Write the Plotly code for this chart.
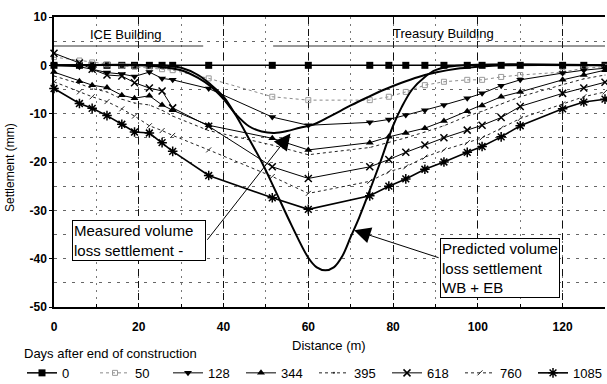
import plotly.graph_objects as go

# ---------------- data ----------------
distance = [0, 6, 9, 12.5, 16, 19, 22.5, 25.5, 28, 36.5, 51.5, 60, 74.5, 79, 83,
            87.5, 92, 97.5, 101, 105.5, 110, 120, 125, 130]

days_labels = ["0", "50", "128", "344", "395", "618", "760", "1085"]

s_0 = [0.0] * 24
s_50 = [1.7, 1.0, 0.6, 0.2, -0.1, -0.3, -0.5, -0.8, -1.0, -2.7, -6.5, -7.2,
        -7.2, -6.5, -5.5, -4.1, -3.4, -3.0, -3.0, -2.4, -2.0, -1.4, -0.6, -0.3]
s_128 = [0.0, -0.3, -0.8, -1.5, -1.8, -2.3, -1.4, -2.7, -3.0, -4.8, -10.7, -12.4,
         -11.8, -11.2, -10.3, -9.3, -8.2, -6.8, -5.8, -4.2, -3.0, -1.6, -1.0, -0.6]
s_344 = [-1.4, -3.3, -4.1, -4.6, -6.2, -6.8, -6.3, -8.2, -9.3, -12.4, -15.1, -17.5,
         -16.0, -14.8, -14.0, -13.0, -11.5, -9.5, -8.3, -6.5, -5.5, -3.0, -2.0, -1.0]
s_395 = [-2.2, -3.8, -4.8, -5.5, -7.0, -7.8, -8.2, -9.3, -10.5, -13.5, -16.5, -18.5,
         -17.0, -16.0, -15.0, -13.8, -12.5, -10.5, -9.5, -8.0, -6.5, -4.0, -2.8, -2.0]
s_618 = [2.5, 0.5, -0.8, -2.0, -2.2, -3.6, -4.7, -5.3, -8.8, -12.6, -21.0, -23.4,
         -21.0, -19.5, -18.0, -16.5, -15.0, -13.4, -12.4, -10.8, -8.5, -5.8, -4.7, -3.5]
s_760 = [-3.4, -5.5, -6.5, -7.5, -9.0, -10.5, -12.5, -13.5, -14.5, -17.5, -23.0, -26.5,
         -24.0, -22.0, -21.0, -19.0, -17.5, -16.0, -15.0, -13.0, -11.0, -8.0, -6.5, -5.5]
s_1085 = [-4.8, -7.9, -8.9, -10.4, -12.2, -13.8, -14.0, -16.0, -17.8, -22.8, -27.4, -29.8,
          -27.0, -25.0, -23.5, -21.5, -20.0, -18.0, -16.8, -14.8, -12.5, -9.0, -7.6, -7.0]

measured_x = [0, 20, 25, 30, 34, 37, 40, 43, 46, 49, 52, 55, 58, 61, 65, 70, 74, 78,
              82, 86, 90, 95, 100, 106, 130]
measured_y = [0, 0, -0.3, -1.0, -2.6, -4.4, -7.0, -10.2, -12.6, -13.7, -14.0, -13.6,
              -12.9, -12.3, -10.6, -8.3, -6.6, -5.0, -3.6, -2.4, -1.5, -0.7, -0.3, 0, 0]

predicted_x = [0, 25, 30, 34, 37, 40, 43, 46, 49, 52, 56, 60, 62, 64, 66, 68, 70, 72,
               74, 77, 80, 82, 84.5, 87.5, 90, 95, 130]
predicted_y = [0, 0, -0.5, -2.0, -4.0, -6.5, -10.5, -15.2, -20.0, -25.5, -33.0, -39.8,
               -41.8, -42.4, -41.8, -39.5, -35.5, -31.5, -27.0, -20.0, -12.5, -8.7,
               -5.0, -2.4, -1.0, -0.1, 0]

ice_x = [0, 35.2]
treasury_x = [51.7, 130]
building_y = 4.0

x_ticks = [0, 20, 40, 60, 80, 100, 120]
y_ticks = [10, 0, -10, -20, -30, -40, -50]
y_ticktext = ["10", "0", "-10", "-20", "-30", "-40", "-50"]

# ---------------- layout geometry ----------------
W, H = 607, 384
ML, MR, MT, MB = 54, 2, 17, 77
PW, PH = W - ML - MR, H - MT - MB


def px_to_paper(px, py):
    return (px - ML) / PW, (H - MB - py) / PH


# ---------------- styles ----------------
FONT = "Liberation Sans, Arial, sans-serif"
series = [
    (s_0, dict(color="black", width=1.5, dash="solid"),
     dict(symbol="square", size=7, color="black")),
    (s_50, dict(color="#8a8a8a", width=1, dash="dot"),
     dict(symbol="square-open", size=5, color="#9a9a9a", line=dict(width=1, color="#9a9a9a"))),
    (s_128, dict(color="black", width=1, dash="solid"),
     dict(symbol="triangle-down", size=7, color="black")),
    (s_344, dict(color="black", width=1, dash="solid"),
     dict(symbol="triangle-up", size=7, color="black")),
    (s_395, dict(color="#222", width=1, dash="dot"),
     dict(symbol="circle", size=1, color="#222")),
    (s_618, dict(color="black", width=1, dash="solid"),
     dict(symbol="x-thin-open", size=7, color="black", line=dict(width=1.5, color="black"))),
    (s_760, dict(color="#222", width=1, dash="3px,3px"),
     dict(symbol="line-ne-open", size=5, color="#222", line=dict(width=1, color="#222"))),
    (s_1085, dict(color="black", width=1.6, dash="solid"),
     dict(symbol="asterisk-open", size=8, color="black", line=dict(width=1.5, color="black"))),
]

fig = go.Figure()

# building extents
fig.add_trace(go.Scatter(x=ice_x, y=[building_y] * 2, mode="lines",
                         line=dict(color="#333", width=1.2), showlegend=False, hoverinfo="skip"))
fig.add_trace(go.Scatter(x=treasury_x, y=[building_y] * 2, mode="lines",
                         line=dict(color="#333", width=1.2), showlegend=False, hoverinfo="skip"))

for label, (vals, ln, mk) in zip(days_labels, series):
    fig.add_trace(go.Scatter(x=distance, y=vals, name=label, mode="lines+markers",
                             line=ln, marker=mk, cliponaxis=False))

fig.add_trace(go.Scatter(x=measured_x, y=measured_y, mode="lines", line_shape="spline",
                         line=dict(color="black", width=2), showlegend=False))
fig.add_trace(go.Scatter(x=predicted_x, y=predicted_y, mode="lines", line_shape="spline",
                         line=dict(color="black", width=2), showlegend=False))

# ---------------- annotations ----------------
ann = []
ann.append(dict(x=17, y=6.3, xref="x", yref="y", text="ICE Building", showarrow=False,
                font=dict(family=FONT, size=13, color="black")))
ann.append(dict(x=92, y=6.5, xref="x", yref="y", text="Treasury Building", showarrow=False,
                font=dict(family=FONT, size=13, color="black")))
ann.append(dict(x=20.1, y=-36.3, xref="x", yref="y",
                text="Measured volume<br>loss settlement -", showarrow=False,
                align="left", width=130, bgcolor="white", bordercolor="black",
                borderwidth=1, borderpad=1,
                font=dict(family=FONT, size=15, color="black")))
ann.append(dict(x=105.2, y=-41.9, xref="x", yref="y",
                text="Predicted volume<br>loss settlement<br>WB + EB", showarrow=False,
                align="left", width=116, bgcolor="white", bordercolor="black",
                borderwidth=1, borderpad=1,
                font=dict(family=FONT, size=15, color="black")))
# arrows
ann.append(dict(x=55.8, y=-14.1, ax=35.9, ay=-36.4, xref="x", yref="y", axref="x", ayref="y",
                text="", showarrow=True, arrowhead=2, arrowsize=3.3, arrowwidth=1,
                arrowcolor="black", standoff=0, startstandoff=0))
ann.append(dict(x=70.8, y=-34.1, ax=91.1, ay=-39.9, xref="x", yref="y", axref="x", ayref="y",
                text="", showarrow=True, arrowhead=2, arrowsize=3.3, arrowwidth=1,
                arrowcolor="black", standoff=0, startstandoff=0))
# axis titles
yx, yy = px_to_paper(10, 168)
ann.append(dict(x=yx, y=yy, xref="paper", yref="paper", xanchor="center", yanchor="middle",
                text="Settlement (mm)", textangle=-90, showarrow=False,
                font=dict(family=FONT, size=12, color="black")))
dx, dy = px_to_paper(329, 345)
ann.append(dict(x=dx, y=dy, xref="paper", yref="paper", xanchor="center", yanchor="middle",
                text="Distance (m)", showarrow=False,
                font=dict(family=FONT, size=13, color="black")))

lx, ly = px_to_paper(22, 341)
fig.update_layout(
    width=W, height=H,
    margin=dict(l=ML, r=MR, t=MT, b=MB, autoexpand=False),
    paper_bgcolor="white", plot_bgcolor="white",
    font=dict(family=FONT, color="black"),
    annotations=ann,
    legend=dict(orientation="h", xref="paper", yref="paper",
                x=lx, xanchor="left", y=ly, yanchor="top",
                title=dict(text="Days after end of construction", side="top",
                           font=dict(family=FONT, size=13)),
                font=dict(family=FONT, size=13), entrywidth=28, entrywidthmode="pixels",
                itemwidth=30, bgcolor="rgba(0,0,0,0)", tracegroupgap=0),
)

fig.update_xaxes(range=[0, 130], tickvals=x_ticks, showline=True, linecolor="black",
                 linewidth=1.5, mirror=True, ticks="inside", ticklen=4, tickcolor="black",
                 tickfont=dict(family=FONT, size=12, weight="bold"), ticklabelstandoff=8,
                 showgrid=True, gridcolor="#111", griddash="7px,5px", gridwidth=1,
                 zeroline=False,
                 minor=dict(dtick=10, showgrid=True, gridcolor="#777", griddash="2px,5px",
                            ticks="inside", ticklen=3, tickcolor="black"))
fig.update_yaxes(range=[-50, 10], tickvals=y_ticks, ticktext=y_ticktext, showline=True,
                 linecolor="black", linewidth=1.5, ticks="outside", ticklen=3,
                 tickcolor="black", tickfont=dict(family=FONT, size=12, weight="bold"),
                 showgrid=True, gridcolor="#666", griddash="3px,6px", gridwidth=1,
                 zeroline=False,
                 minor=dict(dtick=5, showgrid=True, gridcolor="#666", griddash="3px,6px"))

fig.write_html("out.html")
